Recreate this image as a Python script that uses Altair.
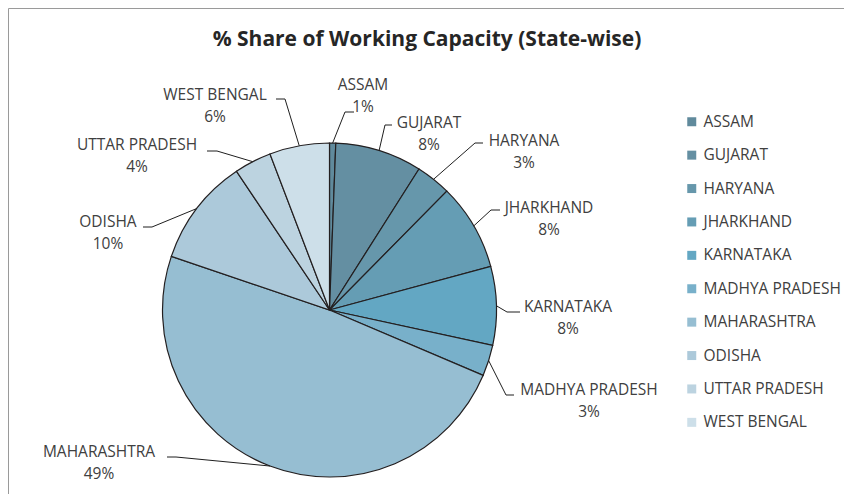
import math
import altair as alt
import pandas as pd

# ---------------- data ----------------
states = ["ASSAM", "GUJARAT", "HARYANA", "JHARKHAND", "KARNATAKA",
          "MADHYA PRADESH", "MAHARASHTRA", "ODISHA", "UTTAR PRADESH", "WEST BENGAL"]
share = [0.6, 8.4, 3.4, 8.4, 7.6, 3.0, 48.8, 10.4, 3.6, 5.8]
colors = ["#608a9c", "#648fa2", "#6697ab", "#659db4", "#63a7c3",
          "#78b0ca", "#96bed2", "#acc9da", "#bcd3e0", "#cddfe9"]
title_text = "% Share of Working Capacity (State-wise)"

# ---------------- layout (annotation placement, chart pixels) ----------------
W, H = 836, 486
CX, CY, R = 321.5, 302.0, 167.0
FONT = "Open Sans"
FS = 15.5
TXT = "#404040"
# label first-line centre (x, y) in page px; converted to chart px below
label_xy = [(363, 85), (429, 123), (524, 141), (549, 208), (568, 307),
            (589, 390), (99, 452), (108, 222), (137, 145), (215, 95)]
# leader line: label-side end and elbow (page px)
leader_end = [(354, 112), (392, 125), (483, 143), (500, 210), (520, 312),
              (514, 395), (167, 457), (143, 227), (207, 151), (276, 99)]
leader_elbow = [(345, 112), (385, 125), (475, 143), (491, 210), (507, 312),
                (506, 395), (176, 457), (152, 227), (217, 151), (285, 99)]
LINE_GAP = 21.5
OFF = 8  # page margin

total = sum(share)
df_arc = pd.DataFrame({"state": states, "share": share, "idx": list(range(len(states)))})

rows_txt = []
rows_line = []
cum = 0.0
for i, (s, v) in enumerate(zip(states, share)):
    mid = 2 * math.pi * (cum + v / 2) / total
    cum += v
    ax = CX + R * math.sin(mid)
    ay = CY - R * math.cos(mid)
    lx, ly = label_xy[i][0] - OFF, label_xy[i][1] - OFF
    rows_txt.append({"state": s, "name": s, "pct": f"{round(v)}%",
                     "x": lx, "y1": ly, "y2": ly + LINE_GAP})
    pts = [(leader_end[i][0] - OFF, leader_end[i][1] - OFF),
           (leader_elbow[i][0] - OFF, leader_elbow[i][1] - OFF),
           (ax, ay)]
    for k, (px, py) in enumerate(pts):
        rows_line.append({"state": s, "k": k, "x": px, "y": py})

df_txt = pd.DataFrame(rows_txt)
df_line = pd.DataFrame(rows_line)

xs = alt.Scale(domain=[0, W], nice=False, zero=False)
ys = alt.Scale(domain=[0, H], reverse=True, nice=False, zero=False)

arc = alt.Chart(df_arc).mark_arc(outerRadius=R, stroke="#231f20", strokeWidth=1.2).encode(
    theta=alt.Theta("share:Q", stack=True),
    color=alt.Color("state:N", scale=alt.Scale(domain=states, range=colors),
                    legend=alt.Legend(orient="none", legendX=676, legendY=106, title=None,
                                      symbolType="square", symbolSize=81,
                                      symbolStrokeWidth=0, symbolOpacity=1,
                                      labelFont=FONT, labelFontSize=FS, labelColor=TXT,
                                      rowPadding=16.4, labelOffset=4, padding=0)),
    order=alt.Order("idx:Q", sort="ascending"),
    x=alt.value(CX), y=alt.value(CY),
)

lines = alt.Chart(df_line).mark_line(color="#1f1f1f", strokeWidth=1).encode(
    x=alt.X("x:Q", scale=xs, axis=None),
    y=alt.Y("y:Q", scale=ys, axis=None),
    detail="state:N",
    order="k:Q",
)

t1 = alt.Chart(df_txt).mark_text(font=FONT, fontSize=FS, color=TXT, align="center",
                                 baseline="middle").encode(
    x=alt.X("x:Q", scale=xs, axis=None), y=alt.Y("y1:Q", scale=ys, axis=None), text="name:N")
t2 = alt.Chart(df_txt).mark_text(font=FONT, fontSize=FS, color=TXT, align="center",
                                 baseline="middle").encode(
    x=alt.X("x:Q", scale=xs, axis=None), y=alt.Y("y2:Q", scale=ys, axis=None), text="pct:N")

title = alt.Chart(pd.DataFrame({"t": [title_text]})).mark_text(
    font=FONT, fontSize=21, fontWeight="bold", color="#262626", align="center", baseline="middle"
).encode(x=alt.value(427 - OFF), y=alt.value(40 - OFF), text="t:N")

chart = alt.layer(arc, lines, t1, t2, title).properties(
    width=W, height=H, padding=0, autosize="none"
).configure_view(stroke="#9a9a9a", strokeWidth=1)

chart.save("out.html", embed_options={"renderer": "svg", "actions": False})
